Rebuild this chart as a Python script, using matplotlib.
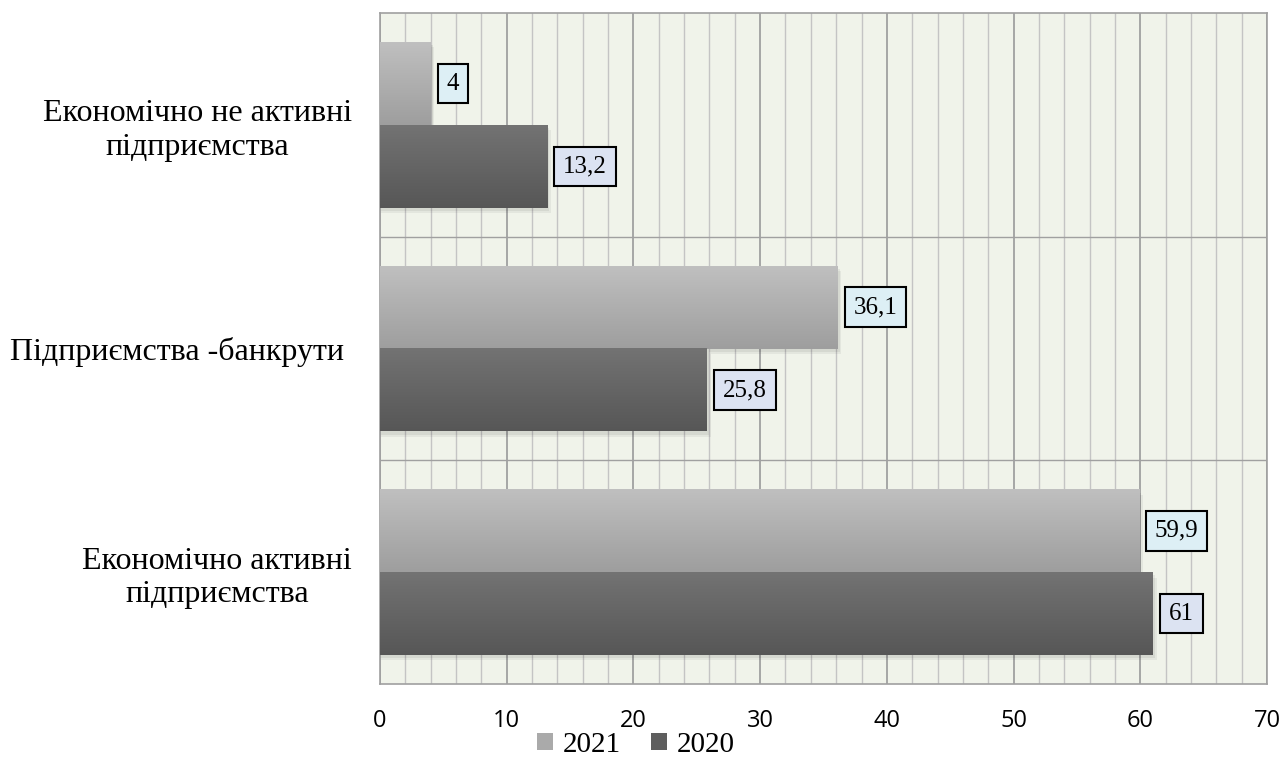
import numpy as np
import matplotlib.pyplot as plt
from matplotlib.patches import Patch
from matplotlib.ticker import MultipleLocator

categories = ['Економічно активні\nпідприємства',
              'Підприємства -банкрути ',
              'Економічно не активні\nпідприємства']
values_2021 = [59.9, 36.1, 4]
values_2020 = [61, 25.8, 13.2]
labels_2021 = ['59,9', '36,1', '4']
labels_2020 = ['61', '25,8', '13,2']
years = ['2021', '2020']

serif = ['Liberation Serif', 'DejaVu Serif']

fig = plt.figure(figsize=(12.82, 7.67), dpi=100)
ax = fig.add_axes([0.2964, 0.108, 0.6919, 0.875])

ax.set_facecolor('#F0F3EA')
ax.set_xlim(0, 70)
ax.set_ylim(-0.5, 2.5)

h = 0.37
y = np.arange(len(categories))

def grad_bar(val, yc, top, bottom):
    # vertical gradient, lighter at the top
    g = np.linspace(0, 1, 64).reshape(-1, 1)
    cols = np.array(top) * (1 - g) + np.array(bottom) * g
    img = cols.reshape(64, 1, 3)
    # soft shadow
    for k, a in [(0.6, 0.05), (0.35, 0.06)]:
        ax.add_patch(plt.Rectangle((0, yc - h / 2 - k * 0.04), val + k * 0.5, h,
                                   color='#000000', alpha=a, lw=0, zorder=2))
    ax.imshow(img, extent=(0, val, yc - h / 2, yc + h / 2), aspect='auto',
              origin='upper', zorder=3, interpolation='bilinear')

light_top, light_bot = (0.75, 0.75, 0.75), (0.62, 0.62, 0.62)
dark_top, dark_bot = (0.45, 0.45, 0.45), (0.34, 0.34, 0.34)

for i in y:
    grad_bar(values_2021[i], i + h / 2, light_top, light_bot)
    grad_bar(values_2020[i], i - h / 2, dark_top, dark_bot)
    ax.annotate(labels_2021[i], (values_2021[i], i + h / 2), xytext=(11.5, 0),
                textcoords='offset points', va='center', ha='left', fontsize=18,
                family=serif, zorder=5,
                bbox=dict(boxstyle='square,pad=0.35', fc='#DDEFF5', ec='black', lw=1.5))
    ax.annotate(labels_2020[i], (values_2020[i], i - h / 2), xytext=(11.5, 0),
                textcoords='offset points', va='center', ha='left', fontsize=18,
                family=serif, zorder=5,
                bbox=dict(boxstyle='square,pad=0.35', fc='#DCE3F2', ec='black', lw=1.5))

# grid: major every 10, minor every 2, separators between categories
ax.xaxis.set_major_locator(MultipleLocator(10))
ax.xaxis.set_minor_locator(MultipleLocator(2))
ax.grid(True, axis='x', which='major', color='#A0A0A0', lw=1.3, zorder=1)
ax.grid(True, axis='x', which='minor', color='#C4C4C4', lw=1.0, zorder=1)
ax.set_yticks([0.5, 1.5], minor=True)
ax.grid(True, axis='y', which='minor', color='#A0A0A0', lw=1.0, zorder=1)
ax.set_axisbelow(True)

ax.set_yticks(y)
ax.set_yticklabels(categories, family=serif, fontsize=23, multialignment='center')
ax.tick_params(axis='y', which='both', length=0, pad=20)
ax.tick_params(axis='x', which='both', length=0, pad=18, labelsize=17)
for lab in ax.get_xticklabels():
    lab.set_family(['Open Sans', 'DejaVu Sans'])

for s in ax.spines.values():
    s.set_color('#A0A0A0')
    s.set_linewidth(1.2)

handles = [Patch(fc='#AAAAAA', ec='none'), Patch(fc='#5E5E5E', ec='none')]
fig.legend(handles, years, loc='lower center', bbox_to_anchor=(0.496, -0.022), ncol=2,
           frameon=False, prop={'family': serif, 'size': 21}, handlelength=0.55,
           handleheight=0.55, handletextpad=0.35, columnspacing=1.0)

fig.savefig('out.png', dpi=100)
